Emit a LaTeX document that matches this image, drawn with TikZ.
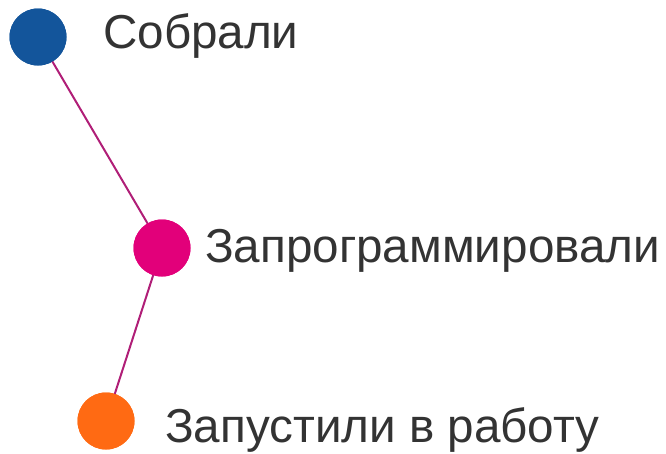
\documentclass[tikz,border=0pt]{standalone}
\usepackage{fontspec}
\setmainfont{Liberation Sans}
\usepackage{tikz}
\usetikzlibrary{positioning}
\definecolor{dotblue}{HTML}{13559B}
\definecolor{dotpink}{HTML}{E2007A}
\definecolor{dotorange}{HTML}{FF6A13}
\definecolor{linkcol}{HTML}{B01E77}
\definecolor{txtgray}{HTML}{333333}

\begin{document}
\begin{tikzpicture}[x=1pt,y=-1pt]
	\tikzstyle{dot} = [circle, minimum size = 57pt, inner sep = 0pt, draw = none]
	\tikzstyle{lbl} = [anchor = base west, inner sep = 0pt, text = txtgray, font = \fontsize{47.6}{56}\selectfont]
\useasboundingbox (0,0) rectangle (666,453);
\node[dot, fill = dotblue] (1) at (38, 37) {};
\node[dot, fill = dotpink] (2) at (162, 248) {};
\node[dot, fill = dotorange] (3) at (106, 421) {};
	\path[draw][linkcol, line width = 2pt] (1.center) -- (2.center);
	\path[draw][linkcol, line width = 2pt] (2.center) -- (3.center);
\node[dot, fill = dotblue] at (1) {};
\node[dot, fill = dotpink] at (2) {};
\node[dot, fill = dotorange] at (3) {};
\node[lbl] (t1) at (103, 48) {Собрали};
\node[lbl] (t2) at (205, 262) {Запрограммировали};
\node[lbl] (t3) at (165, 442) {Запустили в работу};
    \end{tikzpicture}
\end{document}
